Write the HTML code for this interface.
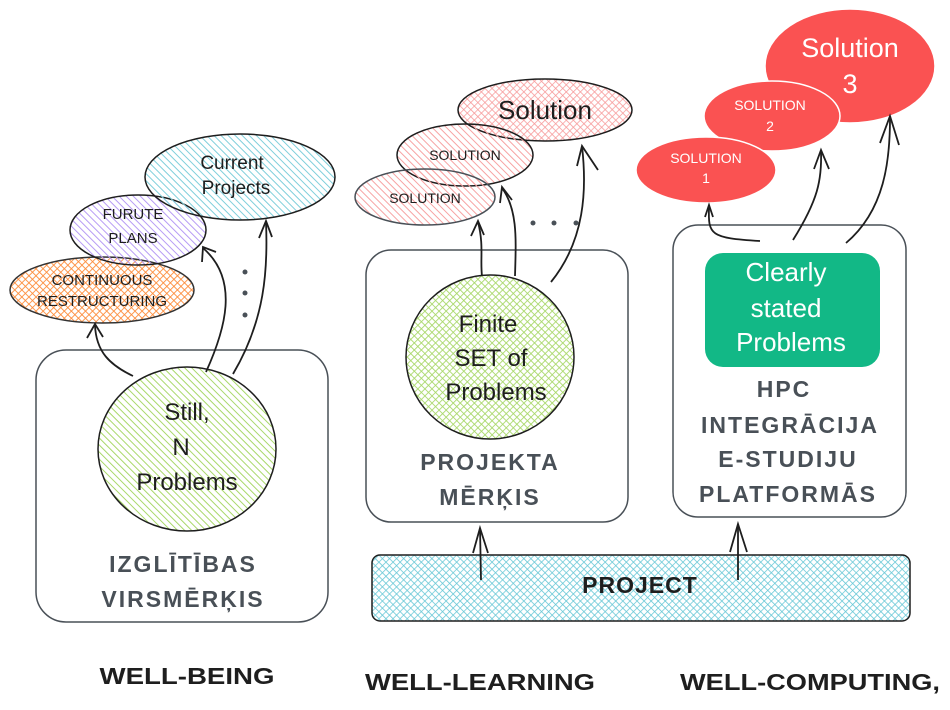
<!DOCTYPE html>
<html><head><meta charset="utf-8"><style>
html,body{margin:0;padding:0;background:#fff;}
svg{display:block;}
text{font-family:"Liberation Sans","DejaVu Sans",sans-serif;text-anchor:middle;}
.g{fill:#495057;font-size:23px;letter-spacing:2px;font-weight:bold;}
.k{fill:#1e1e1e;}
</style></head><body>
<svg width="950" height="710" viewBox="0 0 950 710" xmlns="http://www.w3.org/2000/svg">
<defs>
<pattern id="hg" width="5" height="5" patternUnits="userSpaceOnUse" patternTransform="rotate(-45)"><line x1="0" y1="0" x2="0" y2="5" stroke="#a9d86a" stroke-width="2"/></pattern>
<pattern id="hgx" width="5" height="5" patternUnits="userSpaceOnUse" patternTransform="rotate(-45)"><path d="M0 0V5M0 0H5" stroke="#a9d86a" stroke-width="1.8"/></pattern>
<pattern id="ho" width="5" height="5" patternUnits="userSpaceOnUse" patternTransform="rotate(-45)"><path d="M0 0V5M0 0H5" stroke="#fd8c3a" stroke-width="1.8"/></pattern>
<pattern id="hp" width="5" height="5" patternUnits="userSpaceOnUse" patternTransform="rotate(-45)"><line x1="0" y1="0" x2="0" y2="5" stroke="#b79cf5" stroke-width="2"/></pattern>
<pattern id="hc" width="5" height="5" patternUnits="userSpaceOnUse" patternTransform="rotate(-45)"><line x1="0" y1="0" x2="0" y2="5" stroke="#7fcfdb" stroke-width="2"/></pattern>
<pattern id="hcx" width="5" height="5" patternUnits="userSpaceOnUse" patternTransform="rotate(-45)"><path d="M0 0V5M0 0H5" stroke="#66c7d6" stroke-width="1.6"/></pattern>
<pattern id="hr" width="5" height="5" patternUnits="userSpaceOnUse" patternTransform="rotate(-45)"><line x1="0" y1="0" x2="0" y2="5" stroke="#f7a3a3" stroke-width="2"/></pattern>
<pattern id="hrx" width="5" height="5" patternUnits="userSpaceOnUse" patternTransform="rotate(-45)"><path d="M0 0V5M0 0H5" stroke="#f79a9a" stroke-width="1.6"/></pattern>
</defs>

<g fill="none" stroke="#495057" stroke-width="1.5">
<rect x="36" y="350" width="292" height="272" rx="30"/>
<rect x="366" y="250" width="262" height="272" rx="25"/>
<rect x="673" y="225" width="233" height="292" rx="25"/>
</g>

<!-- left -->
<ellipse cx="102" cy="290" rx="92" ry="33" fill="url(#ho)" stroke="#333" stroke-width="1.5"/>
<ellipse cx="138" cy="230" rx="68" ry="35" fill="url(#hp)" stroke="#1e1e1e" stroke-width="1.5"/>
<ellipse cx="240" cy="177" rx="95" ry="43" fill="url(#hc)" stroke="#1e1e1e" stroke-width="1.5"/>
<ellipse cx="187" cy="449" rx="89" ry="82" fill="url(#hg)" stroke="#1e1e1e" stroke-width="1.5"/>
<g class="k" font-size="15">
<text x="102" y="285">CONTINUOUS</text><text x="102" y="306">RESTRUCTURING</text>
<text x="133" y="219">FURUTE</text><text x="133" y="243">PLANS</text>
</g>
<g class="k" font-size="19"><text x="232" y="169">Current</text><text x="236" y="194">Projects</text></g>
<g class="k" font-size="24"><text x="187" y="420">Still,</text><text x="181" y="455">N</text><text x="187" y="490">Problems</text></g>
<text class="g" x="183" y="572">IZGLĪTĪBAS</text><text class="g" x="183" y="607">VIRSMĒRĶIS</text>
<g fill="none" stroke="#1e1e1e" stroke-width="1.8">
<path d="M133 376 C110 365 96 352 95 325"/><path d="M87 338 L95 324 L103 337"/>
<path d="M206 372 C225 330 240 280 203 248"/><path d="M202 262 L203 247 L216 252"/>
<path d="M233 374 C265 320 268 270 266 222"/><path d="M259 238 L266 221 L272 237"/>
</g>
<g fill="#495057"><circle cx="245" cy="272" r="2.5"/><circle cx="245" cy="293" r="2.5"/><circle cx="245" cy="315" r="2.5"/></g>

<!-- middle -->
<ellipse cx="545" cy="110" rx="87" ry="31" fill="url(#hrx)" stroke="#1e1e1e" stroke-width="1.5"/>
<ellipse cx="465" cy="155" rx="68" ry="31" fill="url(#hr)" stroke="#1e1e1e" stroke-width="1.5"/>
<ellipse cx="425" cy="197" rx="70" ry="28" fill="url(#hr)" stroke="#495057" stroke-width="1.5"/>
<ellipse cx="490" cy="357" rx="84" ry="82" fill="url(#hgx)" stroke="#1e1e1e" stroke-width="1.5"/>
<g class="k" font-size="14"><text x="465" y="160">SOLUTION</text><text x="425" y="203">SOLUTION</text></g>
<text class="k" x="545" y="119" font-size="26">Solution</text>
<g class="k" font-size="24"><text x="488" y="332">Finite</text><text x="491" y="366">SET of</text><text x="496" y="400">Problems</text></g>
<text class="g" x="490" y="470">PROJEKTA</text><text class="g" x="490" y="505">MĒRĶIS</text>
<g fill="none" stroke="#1e1e1e" stroke-width="1.8">
<path d="M482 276 C480 260 484 245 478 222"/><path d="M471 236 L478 221 L484 235"/>
<path d="M515 276 C516 240 518 210 502 188"/><path d="M500 203 L502 187 L512 200"/>
<path d="M551 282 C585 240 587 190 582 146"/><path d="M577 166 L582 146 L598 170"/>
</g>
<g fill="#495057"><circle cx="533" cy="223" r="2.5"/><circle cx="554" cy="223" r="2.5"/><circle cx="576" cy="223" r="2.5"/></g>

<!-- right -->
<ellipse cx="850" cy="66" rx="85" ry="57" fill="#fa5252" stroke="#fff" stroke-width="1.5"/>
<ellipse cx="772" cy="116" rx="68" ry="35" fill="#fa5252" stroke="#fff" stroke-width="1.5"/>
<ellipse cx="706" cy="170" rx="70" ry="33" fill="#fa5252" stroke="#fff" stroke-width="1.5"/>
<g fill="#fff" font-size="14"><text x="770" y="110">SOLUTION</text><text x="770" y="131">2</text><text x="706" y="163">SOLUTION</text><text x="706" y="183">1</text></g>
<g fill="#fff" font-size="27"><text x="850" y="57">Solution</text><text x="850" y="93">3</text></g>
<rect x="705" y="253" width="175" height="114" rx="18" fill="#12b886"/>
<g fill="#fff" font-size="26"><text x="786" y="281">Clearly</text><text x="786" y="317">stated</text><text x="791" y="351">Problems</text></g>
<text class="g" x="784" y="397">HPC</text><text class="g" x="790" y="433">INTEGRĀCIJA</text>
<text class="g" x="788" y="467">E-STUDIJU</text><text class="g" x="788" y="502">PLATFORMĀS</text>
<g fill="none" stroke="#1e1e1e" stroke-width="1.8">
<path d="M760 241 C710 238 708 235 709 207"/><path d="M705 217 L709 205 L713 217"/>
<path d="M793 240 C818 200 822 180 821 151"/><path d="M814 169 L821 150 L829 169"/>
<path d="M846 243 C885 210 890 160 890 118"/><path d="M880 143 L890 116 L899 145"/>
</g>

<!-- project -->
<rect x="372" y="555" width="538" height="66" rx="8" fill="url(#hcx)" stroke="#1e1e1e" stroke-width="1.5"/>
<text class="k" x="640" y="593" font-size="23" letter-spacing="1" font-weight="bold">PROJECT</text>
<g fill="none" stroke="#1e1e1e" stroke-width="1.8">
<path d="M481 580 L480 528"/><path d="M473 553 L480 528 L488 553"/>
<path d="M738 580 L738 524"/><path d="M730 552 L738 524 L747 552"/>
</g>

<g class="k" font-size="23" font-weight="bold">
<text x="187" y="684" textLength="175" lengthAdjust="spacingAndGlyphs">WELL-BEING</text>
<text x="480" y="690" textLength="230" lengthAdjust="spacingAndGlyphs">WELL-LEARNING</text>
<text x="810" y="690" textLength="260" lengthAdjust="spacingAndGlyphs">WELL-COMPUTING,</text>
</g>
</svg>
</body></html>
